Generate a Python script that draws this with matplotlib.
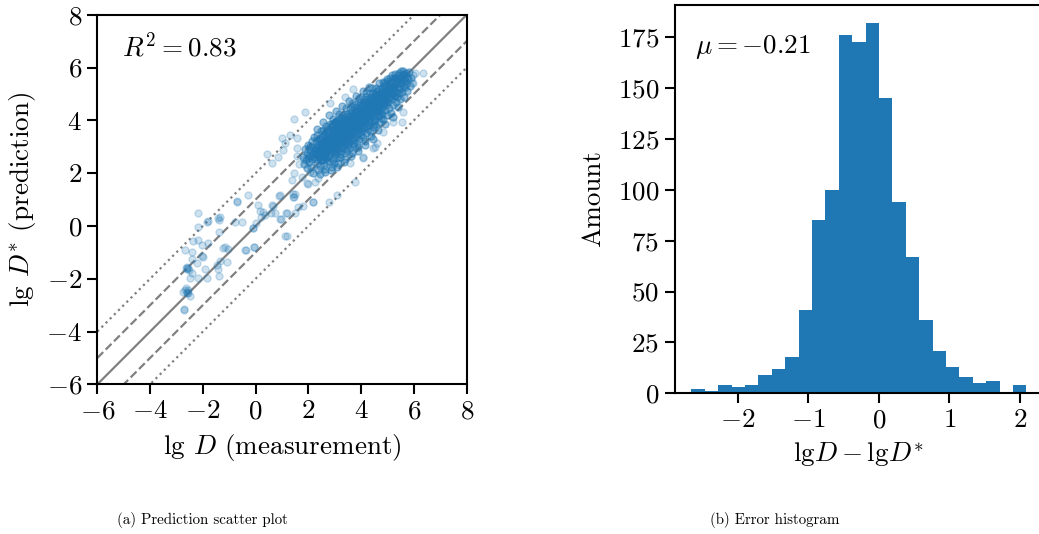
import numpy as np
import matplotlib
matplotlib.use("Agg")
import matplotlib.pyplot as plt

plt.rcParams["font.family"] = "serif"
plt.rcParams["font.serif"] = ["cmr10"]
plt.rcParams["mathtext.fontset"] = "cm"
plt.rcParams["axes.formatter.use_mathtext"] = True
plt.rcParams["axes.unicode_minus"] = True

# --- scatter data (lg D measured, lg D* predicted) ---
# sparse points outside the main cloud
sparse_pts = [
    (-0.28, 1.17), (-0.69, 0.94), (-2.20, 0.48), (-1.35, 0.33), (-1.38, 0.22), (-1.82, 0.17),
    (-2.20, -0.05), (-0.78, 0.14), (-0.53, 0.14), (-1.39, -0.22), (0.10, 0.78), (0.17, 0.58),
    (0.36, 0.41), (0.58, 0.48), (0.20, 0.35), (0.65, 0.77), (0.92, 0.25), (1.15, 0.50),
    (0.90, 1.13), (1.40, 1.11), (1.49, 1.21), (1.62, 0.73), (1.81, 0.75), (2.16, 0.91),
    (1.49, 0.48), (1.18, -0.38), (-0.11, -0.09), (-0.05, -0.79), (-0.38, -0.91), (-2.17, -0.53),
    (-2.36, -0.57), (-2.04, -0.72), (-1.79, -0.64), (-2.68, -0.91), (-2.42, -1.00), (-2.04, -1.13),
    (-1.98, -1.17), (-1.22, -0.82), (-1.06, -0.89), (-1.10, -1.36), (-1.35, -1.32), (-1.47, -1.48),
    (-1.44, -1.63), (-2.23, -1.42), (-1.92, -1.63), (-2.42, -1.27), (-2.61, -1.63), (-2.51, -1.67),
    (-2.42, -1.80), (-2.17, -1.98), (-1.85, -1.98), (-2.49, -1.98), (-1.38, -1.89), (-2.64, -2.36),
    (-2.55, -2.43), (-2.59, -2.55), (-2.74, -2.49), (-2.49, -2.66), (-2.70, -3.16), (-1.83, 0.16),
    (-1.41, 0.29), (-1.16, -0.81), (-2.61, -1.54), (-2.55, -1.61), (-2.57, -2.55), (-2.68, -2.43),
    (-2.71, -3.17), (-2.63, -1.58), (-2.60, -2.50),
    (1.87, 4.33), (1.47, 4.04), (0.99, 3.32), (1.11, 3.13), (1.56, 3.32), (1.30, 3.44),
    (0.44, 2.72), (0.61, 2.37), (1.05, 2.87), (0.86, 2.62), (1.56, 2.96), (0.92, 1.17),
    (1.43, 1.21), (2.00, 1.58), (3.07, 1.17), (3.77, 1.67), (3.58, 2.37), (4.08, 2.56),
    (4.46, 2.94), (4.59, 3.13), (4.84, 3.57), (5.22, 3.95), (5.60, 4.33), (5.54, 3.95),
    (6.04, 5.78), (6.36, 5.80), (5.95, 5.40), (2.38, 1.80), (2.82, 4.65), (3.39, 4.90),
    (3.70, 5.18), (5.98, 5.72), (5.92, 5.40), (4.52, 3.00), (4.08, 2.62), (2.79, 0.92),
    (2.16, 0.92), (1.94, 1.61), (1.45, 1.11), (1.37, 1.74), (0.61, 0.79), (1.18, 0.48),
    (0.95, 0.25), (1.11, -0.38), (-0.06, -0.79), (-0.39, -0.91), (-0.09, -0.09), (0.00, 0.12),
    (0.29, 0.54), (0.73, 0.48), (-0.72, 0.92), (1.45, 2.02), (1.75, 1.85), (2.05, 2.05),
    (2.25, 1.65), (1.65, 2.35), (1.85, 2.55), (1.55, 2.65),
]

# dense cloud
core_pts = [
    (1.78, 2.61), (1.83, 2.35), (1.86, 2.92), (1.90, 2.48), (1.93, 2.77), (1.95, 2.20), (1.97, 3.05), (1.99, 2.58),
    (2.01, 2.70), (2.03, 2.41), (2.05, 3.02), (2.06, 2.88), (2.08, 2.25), (2.10, 2.63), (2.12, 3.21), (2.14, 2.52),
    (2.16, 2.95), (2.18, 2.02), (2.19, 2.78), (2.21, 3.35), (2.23, 2.60), (2.24, 2.88),
    (2.26, 2.93), (2.27, 2.55), (2.29, 3.20), (2.30, 2.71), (2.31, 3.44), (2.33, 2.40), (2.34, 2.98), (2.36, 2.12),
    (2.37, 3.07), (2.38, 2.83), (2.40, 3.31), (2.41, 2.62), (2.42, 2.90), (2.43, 2.28), (2.44, 3.15), (2.45, 2.77),
    (2.46, 3.58), (2.47, 2.50), (2.48, 3.00), (2.49, 2.86), (2.44, 1.98), (2.32, 3.66),
    (2.51, 3.05), (2.52, 2.74), (2.53, 3.38), (2.54, 2.51), (2.55, 3.12), (2.56, 2.88), (2.57, 3.62), (2.58, 2.30),
    (2.59, 3.21), (2.60, 2.95), (2.61, 3.45), (2.62, 2.66), (2.63, 3.01), (2.64, 2.15), (2.65, 3.30), (2.66, 2.82),
    (2.67, 3.80), (2.68, 2.58), (2.69, 3.15), (2.70, 2.90), (2.71, 3.52), (2.72, 2.45), (2.73, 3.08), (2.74, 2.98),
    (2.55, 3.95), (2.62, 2.05), (2.70, 3.26), (2.58, 2.78),
    (2.76, 3.22), (2.77, 2.88), (2.78, 3.55), (2.79, 2.63), (2.80, 3.34), (2.81, 3.05), (2.82, 3.88), (2.83, 2.41),
    (2.84, 3.18), (2.85, 3.00), (2.86, 3.70), (2.87, 2.75), (2.88, 3.40), (2.89, 2.22), (2.90, 3.28), (2.91, 2.96),
    (2.92, 4.05), (2.93, 2.55), (2.94, 3.48), (2.95, 3.12), (2.96, 3.62), (2.97, 2.84), (2.98, 3.25), (2.99, 2.68),
    (2.78, 4.20), (2.85, 2.12), (2.91, 3.85), (2.96, 2.40), (2.80, 3.02), (2.88, 3.58), (2.94, 3.15), (2.99, 3.92),
    (3.01, 3.40), (3.02, 3.05), (3.03, 3.72), (3.04, 2.80), (3.05, 3.52), (3.06, 3.20), (3.07, 4.02), (3.08, 2.58),
    (3.09, 3.36), (3.10, 3.15), (3.11, 3.88), (3.12, 2.92), (3.13, 3.60), (3.14, 2.40), (3.15, 3.45), (3.16, 3.12),
    (3.17, 4.25), (3.18, 2.72), (3.19, 3.66), (3.20, 3.30), (3.21, 3.80), (3.22, 3.00), (3.23, 3.42), (3.24, 2.85),
    (3.04, 4.35), (3.10, 2.25), (3.16, 3.95), (3.21, 2.60), (3.06, 3.28), (3.13, 3.76), (3.19, 3.35), (3.24, 4.10),
    (3.26, 3.60), (3.27, 3.22), (3.28, 3.95), (3.29, 2.98), (3.30, 3.72), (3.31, 3.40), (3.32, 4.22), (3.33, 2.75),
    (3.34, 3.55), (3.35, 3.35), (3.36, 4.08), (3.37, 3.10), (3.38, 3.80), (3.39, 2.55), (3.40, 3.65), (3.41, 3.30),
    (3.42, 4.45), (3.43, 2.90), (3.44, 3.88), (3.45, 3.50), (3.46, 4.00), (3.47, 3.18), (3.48, 3.62), (3.49, 3.05),
    (3.29, 4.55), (3.36, 2.42), (3.44, 4.18), (3.30, 3.48), (3.40, 3.98), (3.47, 2.82),
    (3.51, 3.80), (3.52, 3.42), (3.53, 4.15), (3.54, 3.18), (3.55, 3.92), (3.56, 3.60), (3.57, 4.42), (3.58, 2.95),
    (3.59, 3.75), (3.60, 3.55), (3.61, 4.28), (3.62, 3.30), (3.63, 4.00), (3.64, 2.78), (3.65, 3.85), (3.66, 3.50),
    (3.67, 4.65), (3.68, 3.10), (3.69, 4.08), (3.70, 3.70), (3.71, 4.20), (3.72, 3.38), (3.73, 3.82), (3.74, 3.25),
    (3.55, 4.72), (3.62, 2.65), (3.70, 4.38), (3.56, 3.68), (3.65, 4.18), (3.73, 3.02),
    (3.76, 4.00), (3.77, 3.62), (3.78, 4.35), (3.79, 3.38), (3.80, 4.12), (3.81, 3.80), (3.82, 4.62), (3.83, 3.15),
    (3.84, 3.95), (3.85, 3.75), (3.86, 4.48), (3.87, 3.50), (3.88, 4.20), (3.89, 2.98), (3.90, 4.05), (3.91, 3.70),
    (3.92, 4.85), (3.93, 3.30), (3.94, 4.28), (3.95, 3.90), (3.96, 4.40), (3.97, 3.58), (3.98, 4.02), (3.99, 3.45),
    (3.80, 4.92), (3.88, 2.85), (3.95, 4.58), (3.84, 4.15),
    (4.01, 4.22), (4.02, 3.85), (4.03, 4.55), (4.04, 3.60), (4.05, 4.35), (4.06, 4.02), (4.07, 4.82), (4.08, 3.38),
    (4.09, 4.18), (4.10, 3.98), (4.11, 4.70), (4.12, 3.72), (4.13, 4.42), (4.14, 3.20), (4.15, 4.28), (4.16, 3.92),
    (4.17, 5.05), (4.18, 3.52), (4.19, 4.50), (4.20, 4.12), (4.21, 4.62), (4.22, 3.80), (4.23, 4.25), (4.24, 3.66),
    (4.05, 5.12), (4.13, 3.08), (4.20, 4.88), (4.09, 4.38),
    (4.26, 4.45), (4.27, 4.05), (4.28, 4.78), (4.29, 3.82), (4.30, 4.58), (4.31, 4.25), (4.32, 5.02), (4.33, 3.60),
    (4.34, 4.40), (4.35, 4.20), (4.36, 4.90), (4.37, 3.95), (4.38, 4.65), (4.39, 3.42), (4.40, 4.50), (4.41, 4.15),
    (4.42, 5.22), (4.43, 3.75), (4.44, 4.72), (4.45, 4.35), (4.46, 4.85), (4.47, 4.02), (4.48, 4.48), (4.49, 3.88),
    (4.30, 5.28), (4.45, 3.30),
    (4.51, 4.65), (4.52, 4.28), (4.53, 5.00), (4.54, 4.02), (4.55, 4.80), (4.56, 4.45), (4.57, 5.22), (4.58, 3.80),
    (4.59, 4.60), (4.60, 4.40), (4.61, 5.10), (4.62, 4.15), (4.63, 4.85), (4.64, 3.62), (4.65, 4.70), (4.66, 4.35),
    (4.67, 5.40), (4.68, 3.95), (4.69, 4.92), (4.70, 4.55), (4.71, 5.05), (4.72, 4.22), (4.73, 4.68), (4.74, 4.08),
    (4.76, 4.88), (4.77, 4.50), (4.78, 5.22), (4.79, 4.25), (4.80, 5.02), (4.81, 4.68), (4.83, 5.45), (4.84, 4.05),
    (4.85, 4.82), (4.86, 4.62), (4.88, 5.30), (4.89, 4.38), (4.90, 5.08), (4.92, 3.88), (4.93, 4.95), (4.94, 4.58),
    (4.96, 5.58), (4.97, 4.20), (4.98, 5.15), (4.99, 4.78),
    (5.01, 5.08), (5.03, 4.70), (5.04, 5.42), (5.06, 4.45), (5.08, 5.22), (5.09, 4.88), (5.11, 5.62), (5.13, 4.28),
    (5.14, 5.02), (5.16, 4.82), (5.18, 5.50), (5.19, 4.58), (5.21, 5.28), (5.22, 4.12), (5.23, 5.15), (5.24, 4.95),
    (5.26, 5.28), (5.28, 4.92), (5.30, 5.60), (5.32, 4.68), (5.34, 5.42), (5.36, 5.08), (5.38, 5.72), (5.40, 4.50),
    (5.42, 5.22), (5.44, 5.02), (5.46, 5.55), (5.48, 4.80),
    (5.52, 5.42), (5.55, 5.08), (5.58, 5.70), (5.61, 4.90), (5.64, 5.52), (5.67, 5.25), (5.70, 5.78), (5.73, 5.10),
    (5.78, 5.55), (5.84, 5.30), (5.90, 5.62),
    (2.45, 2.95), (2.52, 3.18), (2.60, 2.70), (2.66, 3.05), (2.72, 3.35), (2.78, 2.98), (2.84, 3.42), (2.90, 3.10),
    (2.96, 3.38), (3.02, 3.55), (3.08, 3.22), (3.14, 3.50), (3.20, 3.68), (3.26, 3.35), (3.32, 3.78), (3.38, 3.52),
    (3.44, 3.70), (3.50, 3.95), (3.56, 3.48), (3.62, 3.88), (3.68, 3.62), (3.74, 4.05), (3.80, 3.72), (3.86, 4.12),
    (3.92, 3.95), (3.98, 4.30), (4.04, 4.08), (4.10, 4.48), (4.16, 4.22), (4.22, 4.55), (4.28, 4.32), (4.34, 4.72),
    (4.40, 4.60), (4.46, 4.42), (4.52, 4.88), (4.58, 4.70), (4.64, 4.55), (4.70, 5.00), (4.76, 4.72), (4.82, 5.12),
    (4.88, 4.95), (4.94, 5.30), (5.00, 5.18), (5.06, 4.98), (5.12, 5.40), (5.18, 5.22), (5.24, 5.62), (5.30, 5.35),
    (5.36, 5.50), (5.42, 5.78), (5.48, 5.40), (5.54, 5.62), (5.60, 5.85), (5.66, 5.48), (5.72, 5.65), (5.80, 5.82),
    (2.35, 2.70), (2.42, 3.25), (2.50, 2.55), (2.58, 3.48), (2.64, 2.88), (2.70, 3.68), (2.76, 2.60), (2.82, 3.20),
    (2.88, 3.80), (2.94, 2.85), (3.00, 3.95), (3.06, 2.98), (3.12, 3.30), (3.18, 4.05), (3.24, 3.15), (3.30, 3.92),
    (3.36, 3.62), (3.42, 3.20), (3.48, 4.25), (3.54, 3.40), (3.60, 4.10), (3.66, 3.78), (3.72, 4.50), (3.78, 3.55),
    (3.84, 4.35), (3.90, 3.85), (3.96, 4.70), (4.02, 3.70), (4.08, 4.60), (4.14, 4.02), (4.20, 4.78), (4.26, 3.92),
    (4.32, 4.62), (4.38, 4.28), (4.44, 5.05), (4.50, 4.18), (4.56, 4.95), (4.62, 4.48), (4.68, 5.18), (4.74, 4.40),
    (4.80, 4.85), (4.86, 5.40), (4.92, 4.70), (4.98, 5.48), (5.04, 4.85), (5.10, 5.30), (5.16, 5.70), (5.22, 5.02),
    (5.28, 5.75), (5.34, 4.88), (5.40, 5.62), (5.46, 5.20), (5.52, 5.88), (5.58, 5.30), (5.64, 5.75), (5.70, 5.38),
]

r2_text = r"$R^2 = 0.83$"

# --- histogram of lg D - lg D* ---
hist_counts = [2, 1, 4, 3, 4, 9, 12, 18, 41, 85, 100, 176, 173, 182, 145,
               94, 67, 36, 21, 13, 8, 5, 6, 0, 4]
hist_range = (-2.657, 2.093)
mu_text = r"$\mu = -0.21$"

sparse = np.array(sparse_pts)
core = np.array(core_pts)

fig = plt.figure(figsize=(10.39, 5.34), dpi=100)
ax1 = fig.add_axes([0.0937, 0.2803, 0.3555, 0.6921])
ax2 = fig.add_axes([0.6492, 0.2635, 0.3547, 0.7277])

fs = 19.5
for ax in (ax1, ax2):
    for sp in ax.spines.values():
        sp.set_linewidth(1.5)
    ax.tick_params(labelsize=fs, width=1.5, length=7, pad=4)

# y = x and +-1 / +-2 bands
lim = np.array([-6, 8])
ax1.plot(lim, lim, color="gray", lw=1.6, zorder=1)
for off in (-1, 1):
    ax1.plot(lim, lim + off, color="gray", lw=1.6, ls="--", zorder=1)
for off in (-2, 2):
    ax1.plot(lim, lim + off, color="gray", lw=1.6, ls=":", zorder=1)

ax1.scatter(sparse[:, 0], sparse[:, 1], s=26, color="#1f77b4", alpha=0.22, zorder=2)
ax1.scatter(core[:, 0], core[:, 1], s=26, color="#1f77b4", alpha=0.45, zorder=2)
ax1.set_xlim(-6, 8)
ax1.set_ylim(-6, 8)
ax1.set_xticks(range(-6, 9, 2))
ax1.set_yticks(range(-6, 9, 2))
ax1.set_xlabel(r"lg $D$ (measurement)", fontsize=fs, labelpad=6)
ax1.set_ylabel(r"lg $D^{*}$ (prediction)", fontsize=fs, labelpad=6)
ax1.text(0.067, 0.955, r2_text, transform=ax1.transAxes, fontsize=fs, va="top", ha="left")

edges = np.linspace(hist_range[0], hist_range[1], len(hist_counts) + 1)
centers = (edges[:-1] + edges[1:]) / 2
ax2.hist(centers, bins=edges, weights=hist_counts, color="#1f77b4")
ax2.set_xlim(-2.895, 2.33)
ax2.set_yticks(range(0, 176, 25))
ax2.set_xticks([-2, -1, 0, 1, 2])
ax2.set_ylabel("Amount", fontsize=fs, labelpad=9)
ax2.set_xlabel(r"$\mathrm{lg}D - \mathrm{lg}D^{*}$", fontsize=fs, labelpad=6)
ax2.text(0.056, 0.927, mu_text, transform=ax2.transAxes, fontsize=fs, va="top", ha="left")

fig.text(0.195, 0.012, "(a) Prediction scatter plot", fontsize=10.8, ha="center", va="bottom")
fig.text(0.746, 0.012, "(b) Error histogram", fontsize=10.8, ha="center", va="bottom")

fig.savefig("out.png", dpi=100)
